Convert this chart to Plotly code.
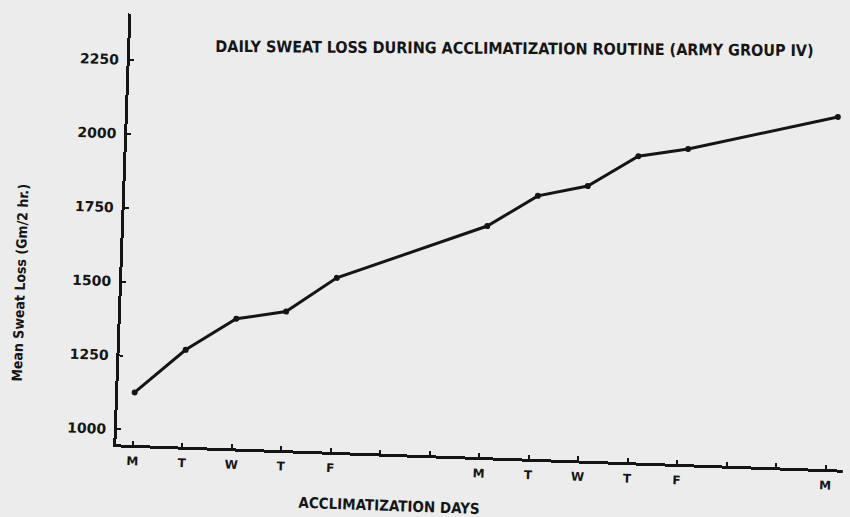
import plotly.graph_objects as go

# Acclimatization calendar: three weeks, weekends left blank on the axis
day_labels = ["M", "T", "W", "T", "F", "", "", "M", "T", "W", "T", "F", "", "", "M"]
# Days on which sweat loss was measured (index into day_labels)
day_index = [0, 1, 2, 3, 4, 7, 8, 9, 10, 11, 14]
# Mean sweat loss, Gm per 2 hr
sweat_loss = [1127, 1277, 1388, 1418, 1538, 1731, 1839, 1878, 1985, 2015, 2141]
y_ticks = [1000, 1250, 1500, 1750, 2000, 2250]
y_tick_text = ["1000", "1250", "1500", "1750", "2000", "2250"]

BG = "#ececec"
INK = "#151515"
LABEL_FONT = "DejaVu Sans Condensed, Liberation Sans Narrow, DejaVu Sans"

fig = go.Figure(
    go.Scatter(
        x=day_index,
        y=sweat_loss,
        mode="lines+markers",
        line=dict(color=INK, width=3),
        marker=dict(color=INK, size=6),
        hoverinfo="skip",
    )
)

fig.update_layout(
    width=850,
    height=517,
    margin=dict(l=123, r=0, t=24, b=62),
    paper_bgcolor=BG,
    plot_bgcolor=BG,
    showlegend=False,
)

fig.update_xaxes(
    range=[-0.333, 14.35],
    tickvals=list(range(len(day_labels))),
    ticktext=day_labels,
    showgrid=False,
    zeroline=False,
    showline=True,
    linewidth=3,
    linecolor=INK,
    ticks="inside",
    ticklen=4,
    tickwidth=2,
    tickcolor=INK,
    tickfont=dict(family="DejaVu Sans", size=12, color=INK, weight="bold"),
    ticklabelstandoff=3,
)

fig.update_yaxes(
    range=[949.3, 2407],
    tickvals=y_ticks,
    ticktext=y_tick_text,
    showgrid=False,
    zeroline=False,
    showline=True,
    linewidth=3,
    linecolor=INK,
    ticks="inside",
    ticklen=4,
    tickwidth=2,
    tickcolor=INK,
    tickfont=dict(family="DejaVu Sans", size=14, color=INK, weight="bold"),
    ticklabelstandoff=5,
)

fig.add_annotation(
    text="DAILY SWEAT LOSS DURING ACCLIMATIZATION ROUTINE (ARMY GROUP IV)",
    xref="paper", yref="paper", x=0.528, y=0.949,
    xanchor="center", yanchor="middle", showarrow=False, textangle=-1.6,
    font=dict(family=LABEL_FONT, size=16, color=INK, weight="bold"),
)
fig.add_annotation(
    text="Mean Sweat Loss (Gm/2 hr.)",
    xref="paper", yref="paper", x=-0.1403, y=0.367,
    xanchor="center", yanchor="middle", showarrow=False, textangle=-90,
    font=dict(family=LABEL_FONT, size=14, color=INK, weight="bold"),
)
fig.add_annotation(
    text="ACCLIMATIZATION DAYS",
    xref="paper", yref="paper", x=0.378, y=-0.1217,
    xanchor="center", yanchor="middle", showarrow=False,
    font=dict(family=LABEL_FONT, size=15, color=INK, weight="bold"),
)

# The drawing sits slightly askew on the sheet
tilt = (
    "var d=document.getElementById('{plot_id}');"
    "d.style.transformOrigin='425px 258.5px';"
    "d.style.transform='rotate(2deg)';"
    "document.documentElement.style.overflow='hidden';"
    "document.body.style.overflow='hidden';"
    "document.body.style.margin='0';"
    "document.body.style.background='" + BG + "';"
)

fig.write_html("out.html", post_script=tilt, config={"displayModeBar": False})
